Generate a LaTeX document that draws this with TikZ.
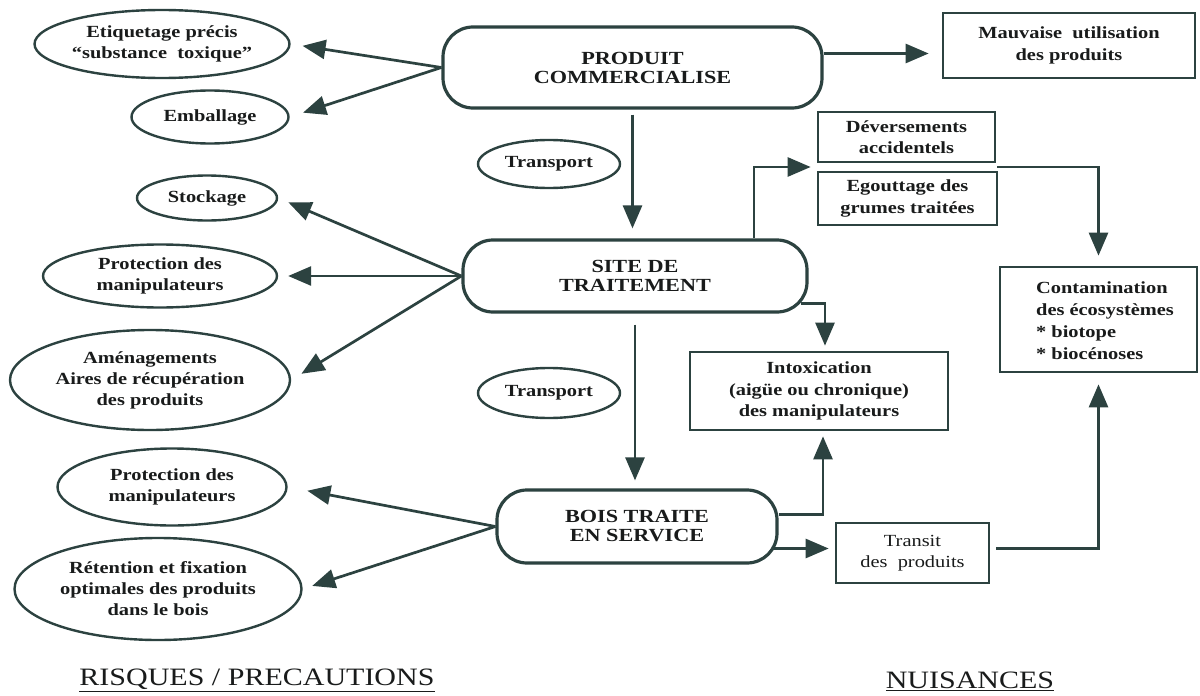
\documentclass[tikz,border=0pt]{standalone}
\usepackage{fontspec}
\setmainfont{Liberation Serif}[FakeStretch=1.2]
\usetikzlibrary{shapes.geometric,arrows.meta,calc}
\definecolor{linecol}{RGB}{44,66,64}
\definecolor{txtcol}{RGB}{25,27,27}
\tikzset{
  ell/.style={ellipse, draw=linecol, line width=2.4pt, inner sep=0pt, align=center,
    text=txtcol, font=\bfseries\fontsize{17}{21}\selectfont},
  rbox/.style={rectangle, draw=linecol, line width=2.7pt, inner sep=0pt, align=center,
    text=txtcol, font=\bfseries\fontsize{17}{21.5}\selectfont},
  stad/.style={rectangle, rounded corners=30pt, draw=linecol, line width=3.2pt, inner sep=0pt,
    align=center, text=txtcol, font=\bfseries\fontsize{18.5}{19}\selectfont},
  arr/.style={draw=linecol, line width=2.7pt, -{Triangle[length=23pt,width=19pt]}},
  foot/.style={text=txtcol, font=\fontsize{25}{28}\selectfont, inner sep=0pt}
}
\begin{document}
\begin{tikzpicture}[x=1pt,y=-1pt]
\fill[white] (0,0) rectangle (1200,696);
\useasboundingbox (0,0) rectangle (1200,696);

% central column
\node[stad, minimum width=379pt, minimum height=81pt] (prod) at (632.5,67.5) {PRODUIT\\COMMERCIALISE};
\node[stad, minimum width=344pt, minimum height=72pt] (site) at (635,276) {SITE DE\\TRAITEMENT};
\node[stad, minimum width=280pt, minimum height=73pt] (bois) at (637,526.5) {BOIS TRAITE\\EN SERVICE};

\node[ell, minimum width=142pt, minimum height=48pt] (tr1) at (549,164) {Transport};
\node[ell, minimum width=142pt, minimum height=50pt] (tr2) at (549,393) {Transport};

% left ellipses
\node[ell, minimum width=255pt, minimum height=68pt] (e1) at (162,44) {Etiquetage précis\\``substance~~toxique''};
\node[ell, minimum width=157pt, minimum height=53pt] (e2) at (210,117) {Emballage};
\node[ell, minimum width=140pt, minimum height=45pt] (e3) at (207,198) {Stockage};
\node[ell, minimum width=234pt, minimum height=63pt] (e4) at (160,276) {Protection des\\manipulateurs};
\node[ell, minimum width=280pt, minimum height=100pt] (e5) at (150,380) {Aménagements\\Aires de récupération\\des produits};
\node[ell, minimum width=229pt, minimum height=77pt] (e6) at (172,487) {Protection des\\manipulateurs};
\node[ell, minimum width=287pt, minimum height=102pt] (e7) at (158,589) {Rétention et fixation\\optimales des produits\\dans le bois};

% right boxes
\node[rbox, minimum width=252pt, minimum height=65pt] (mauv) at (1069,45.5) {Mauvaise~~utilisation\\des produits};
\node[rbox, minimum width=177pt, minimum height=50pt] (dev) at (906.5,137) {Déversements\\accidentels};
\node[rbox, minimum width=179pt, minimum height=53pt] (egou) at (907.5,198.5) {Egouttage des\\grumes traitées};
\node[rbox, minimum width=197pt, minimum height=105pt] (cont) at (1098.5,319.5) {};
\node[text=txtcol, font=\bfseries\fontsize{17}{22}\selectfont, align=left, inner sep=0pt] (contt) at (1105,321) {Contamination\\des écosystèmes\\* biotope\\* biocénoses};
\node[rbox, minimum width=258pt, minimum height=78pt] (intox) at (819,391) {Intoxication\\(aigüe ou chronique)\\des manipulateurs};
\node[rbox, minimum width=153pt, minimum height=60pt, font=\fontsize{17}{21.5}\selectfont] (transit) at (912.5,553) {Transit\\des~~produits};

% footers
\node[foot] (risq) at (257,680) {\underline{RISQUES / PRECAUTIONS}};
\node[foot] (nuis) at (970,681) {\underline{NUISANCES}};

% left arrows
\draw[arr, shorten >=12pt] (prod.west) -- (e1.east);
\draw[arr, shorten >=14pt] (prod.west) -- (e2.east);
\draw[arr, shorten >=11pt] (site.west) -- (e3.east);
\draw[arr, shorten >=10pt] (site.west) -- (e4.east);
\draw[arr, shorten >=12pt] (site.west) -- (e5.east);
\draw[arr, shorten >=20pt] (bois.west) -- (e6.east);
\draw[arr, shorten >=10pt] (bois.west) -- (e7.east);

% vertical arrows
\draw[arr, shorten <=5pt, shorten >=10pt] (prod.south) -- (prod.south |- site.north);
\draw[arr, shorten <=11pt, shorten >=8pt] (site.south) -- (site.south |- bois.north);

% right connectors
\coordinate (m1) at ($(prod.east)+(0,-14)$);
\draw[arr, shorten >=13pt] (m1) -- (m1 -| mauv.west);

\coordinate (gapL) at ($(dev.south west)!0.5!(egou.north west)$);
\coordinate (gapR) at ($(dev.south east)!0.5!(egou.north east)$);
\draw[arr, shorten >=6pt] ($(site.north)+(119,0)$) |- (gapL);
\draw[arr, shorten >=10pt] (gapR) -| (cont.north);

\draw[arr, shorten >=5pt] ($(site.south east)+(-8,-10)$) -| ($(intox.north)+(6,0)$);
\draw[arr, shorten >=5pt] ($(bois.east)+(0,-12)$) -| ($(intox.south)+(4,0)$);

\coordinate (bt) at ($(bois.east)+(-6,22)$);
\draw[arr, shorten >=6pt] (bt) -- (bt -| transit.west);
\draw[arr, shorten <=6pt, shorten >=11pt] (transit.east |- bt) -| (cont.south);
\end{tikzpicture}
\end{document}
